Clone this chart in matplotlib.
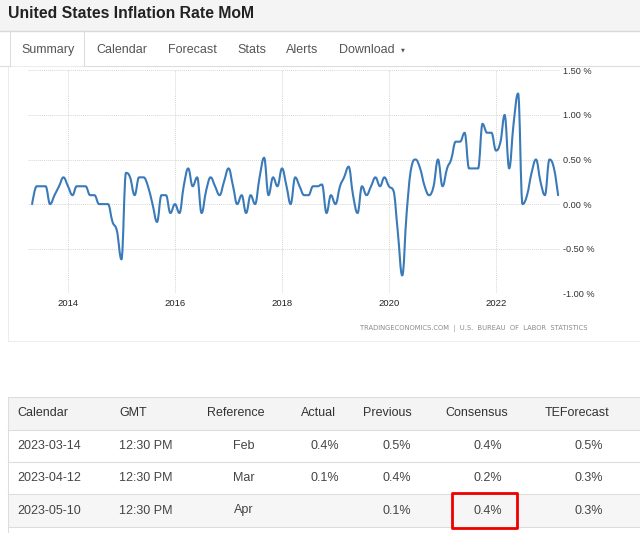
import matplotlib
matplotlib.use("Agg")
import matplotlib.pyplot as plt
import matplotlib.dates as mdates
from matplotlib.lines import Line2D
from matplotlib.patches import Rectangle, PathPatch
from matplotlib.path import Path
import pandas as pd

W, H = 640, 533

# monthly CPI change, %, May 2013 .. Mar 2023
MOM_2013 = [0.0, 0.2, 0.2, 0.2, 0.0, 0.1, 0.2, 0.3]
MOM_2014 = [0.2, 0.1, 0.2, 0.2, 0.2, 0.1, 0.1, 0.0, 0.0, 0.0, -0.2, -0.3]
MOM_2015 = [-0.62, 0.35, 0.3, 0.1, 0.3, 0.3, 0.2, 0.0, -0.2, 0.1, 0.1, -0.1]
MOM_2016 = [0.0, -0.1, 0.2, 0.4, 0.2, 0.3, -0.1, 0.15, 0.3, 0.2, 0.1, 0.25]
MOM_2017 = [0.4, 0.2, 0.0, 0.1, -0.1, 0.1, 0.0, 0.3, 0.52, 0.1, 0.3, 0.2]
MOM_2018 = [0.4, 0.2, 0.0, 0.3, 0.2, 0.1, 0.1, 0.2, 0.2, 0.22, -0.1, 0.1]
MOM_2019 = [0.0, 0.2, 0.3, 0.42, 0.1, -0.1, 0.2, 0.1, 0.2, 0.3, 0.2, 0.3]
MOM_2020 = [0.2, 0.15, -0.3, -0.8, -0.1, 0.4, 0.5, 0.4, 0.2, 0.1, 0.2, 0.5]
MOM_2021 = [0.2, 0.4, 0.5, 0.7, 0.7, 0.8, 0.4, 0.4, 0.4, 0.9, 0.8, 0.8]
MOM_2022 = [0.6, 0.7, 1.0, 0.4, 0.9, 1.24, 0.0, 0.1, 0.35, 0.5, 0.25, 0.1]
MOM_2023 = [0.5, 0.4, 0.1]
START = "2013-05-01"

Y_TICKS = [-1.0, -0.5, 0.0, 0.5, 1.0, 1.5]
X_TICK_YEARS = [2014, 2016, 2018, 2020, 2022]
XLIM = ("2013-04-03", "2023-03-14")

TABS = ["Summary", "Calendar", "Forecast", "Stats", "Alerts", "Download"]

TABLE_HEADER = ["Calendar", "GMT", "Reference", "Actual", "Previous", "Consensus", "TEForecast"]
CAL_DATES = ["2023-03-14", "2023-04-12", "2023-05-10"]
CAL_GMT = ["12:30 PM", "12:30 PM", "12:30 PM"]
CAL_REF = ["Feb", "Mar", "Apr"]
CAL_ACTUAL = ["0.4%", "0.1%", ""]
CAL_PREVIOUS = ["0.5%", "0.4%", "0.1%"]
CAL_CONSENSUS = ["0.4%", "0.2%", "0.4%"]
CAL_TEFORECAST = ["0.5%", "0.3%", "0.3%"]

LINE = "#3a7ab8"
TXT = "#333333"
BORDER = "#dddddd"
FONT = "Liberation Sans"


def fx(x):
    return x / W


def fy(y):
    return 1 - y / H


def hline(fig, x0, x1, y, color=BORDER, lw=0.75):
    fig.add_artist(Line2D([fx(x0), fx(x1)], [fy(y), fy(y)], color=color, linewidth=lw,
                          transform=fig.transFigure, zorder=1))


def vline(fig, x, y0, y1, color=BORDER, lw=0.75):
    fig.add_artist(Line2D([fx(x), fx(x)], [fy(y0), fy(y1)], color=color, linewidth=lw,
                          transform=fig.transFigure, zorder=1))


def rect(fig, x0, y0, x1, y1, color, zorder=0, **kw):
    fig.add_artist(Rectangle((fx(x0), fy(y1)), fx(x1) - fx(x0), fy(y0) - fy(y1),
                             facecolor=color, transform=fig.transFigure, zorder=zorder, **kw))


def spline_path(xs, ys, smoothing=1.5):
    # highcharts-style spline: bezier through every point, no overshoot at extremes
    n = len(xs)
    left, right = [], []
    for i in range(n):
        x, y = xs[i], ys[i]
        if i == 0 or i == n - 1:
            left.append((x, y))
            right.append((x, y))
            continue
        px, py = xs[i - 1], ys[i - 1]
        nx, ny = xs[i + 1], ys[i + 1]
        d = smoothing + 1
        lx, ly = (smoothing * x + px) / d, (smoothing * y + py) / d
        rx, ry = (smoothing * x + nx) / d, (smoothing * y + ny) / d
        corr = ((ry - ly) * (rx - x)) / (rx - lx) + y - ry
        ly += corr
        ry += corr
        if ly > py and ly > y:
            ly = max(py, y)
            ry = 2 * y - ly
        elif ly < py and ly < y:
            ly = min(py, y)
            ry = 2 * y - ly
        if ry > ny and ry > y:
            ry = max(ny, y)
            ly = 2 * y - ry
        elif ry < ny and ry < y:
            ry = min(ny, y)
            ly = 2 * y - ry
        left.append((lx, ly))
        right.append((rx, ry))
    verts = [(xs[0], ys[0])]
    codes = [Path.MOVETO]
    for i in range(1, n):
        verts += [right[i - 1], left[i], (xs[i], ys[i])]
        codes += [Path.CURVE4] * 3
    return Path(verts, codes)


def draw_header(fig):
    rect(fig, 0, 0, W, 30.5, "#f4f4f4", edgecolor="none")
    hline(fig, 0, W, 30.5, color="#d9d9d9", lw=1.0)
    fig.text(fx(8), fy(18.3), "United States Inflation Rate MoM", fontsize=11.3, fontweight="bold",
             color="#222222", ha="left", va="baseline", family=FONT)

    # tab strip
    hline(fig, 0, 9.5, 66)
    hline(fig, 84, W, 66)
    vline(fig, 9.5, 31, 66)
    vline(fig, 84, 31, 66)
    tab_x = [21.7, 96.7, 168, 237.7, 286, 339]
    for name, x in zip(TABS, tab_x):
        fig.text(fx(x), fy(53.3), name, fontsize=9, color="#555555", ha="left", va="baseline", family=FONT)
    fig.text(fx(403.3), fy(50), "\u25bc", fontsize=3.6, color="#555555", ha="center", va="center",
             family="DejaVu Sans")


def draw_chart(fig):
    # container
    rect(fig, 8.3, 66, W + 5, 341, "white", zorder=0, edgecolor="#ececec", linewidth=0.75)

    values = MOM_2013 + MOM_2014 + MOM_2015 + MOM_2016 + MOM_2017 + MOM_2018 + \
        MOM_2019 + MOM_2020 + MOM_2021 + MOM_2022 + MOM_2023
    dates = pd.date_range(START, periods=len(values), freq="MS")
    xnum = list(mdates.date2num(dates))

    ax = fig.add_axes([fx(28), fy(293.3), fx(560) - fx(28), (293.3 - 70.3) / H])
    ax.set_zorder(2)
    ax.patch.set_alpha(0)
    ax.add_patch(PathPatch(spline_path(xnum, values), facecolor="none", edgecolor=LINE,
                           linewidth=1.5, joinstyle="round", capstyle="round", zorder=3))

    ax.set_ylim(-1.0, 1.5)
    ax.set_xlim(mdates.date2num(pd.Timestamp(XLIM[0])), mdates.date2num(pd.Timestamp(XLIM[1])))
    ax.set_yticks(Y_TICKS)
    ax.set_yticklabels([f"{v:.2f} %" for v in Y_TICKS])
    ax.set_xticks(mdates.date2num([pd.Timestamp(f"{y}-01-01") for y in X_TICK_YEARS]))
    ax.set_xticklabels([str(y) for y in X_TICK_YEARS])
    ax.yaxis.tick_right()
    ax.tick_params(axis="y", length=0, pad=2.4, labelsize=6.6, colors=TXT)
    ax.tick_params(axis="x", length=0, pad=4.0, labelsize=6.8, colors="#222222")
    for lab in ax.get_xticklabels() + ax.get_yticklabels():
        lab.set_family(FONT)
    ax.grid(True, color="#d6d6d6", linestyle=(0, (1.0, 1.0)), linewidth=0.7)
    for spine in ax.spines.values():
        spine.set_visible(False)

    fig.text(fx(587.7), fy(328.3), "TRADINGECONOMICS.COM  |  U.S.  BUREAU  OF  LABOR  STATISTICS",
             fontsize=4.85, color="#8a8a8a", ha="right", va="center", family="DejaVu Sans")


def draw_table(fig):
    rows_y = [397, 430, 462, 494, 527]
    rect(fig, 8.3, 397, W + 5, 430, "#f4f4f4", edgecolor="none")
    rect(fig, 8.3, 494, W + 5, 527, "#f6f6f6", edgecolor="none")
    for y in rows_y:
        hline(fig, 8.3, W, y)
    vline(fig, 8.3, 397, H)

    # header
    head_pos = [(17.5, "left"), (119.3, "left"), (236, "center"), (335.5, "right"),
                (412, "right"), (445, "left"), (545, "left")]
    yc = (rows_y[0] + rows_y[1]) / 2
    for label, (x, ha) in zip(TABLE_HEADER, head_pos):
        fig.text(fx(x), fy(yc), label, fontsize=9, color=TXT, ha=ha, va="center", family=FONT)

    columns = [CAL_DATES, CAL_GMT, CAL_REF, CAL_ACTUAL, CAL_PREVIOUS, CAL_CONSENSUS, CAL_TEFORECAST]
    body_pos = [(17.3, "left"), (119, "left"), (244, "center"), (339.6, "right"),
                (411.4, "right"), (502.3, "right"), (603.3, "right")]
    for i in range(len(CAL_DATES)):
        yc = (rows_y[i + 1] + rows_y[i + 2]) / 2
        for col, (x, ha) in zip(columns, body_pos):
            fig.text(fx(x), fy(yc), col[i], fontsize=9, color="#444444", ha=ha, va="center", family=FONT)

    # highlight around the pending consensus
    fig.add_artist(Rectangle((fx(451.7), fy(528.3)), fx(516.7) - fx(451.7), fy(492.7) - fy(528.3),
                             facecolor="none", edgecolor="#ee0000", linewidth=2.0,
                             joinstyle="round", transform=fig.transFigure, zorder=3))


def main():
    fig = plt.figure(figsize=(W / 100, H / 100), dpi=100)
    fig.patch.set_facecolor("white")
    draw_header(fig)
    draw_chart(fig)
    draw_table(fig)
    fig.savefig("out.png", dpi=100)
    plt.close(fig)


if __name__ == "__main__":
    main()
